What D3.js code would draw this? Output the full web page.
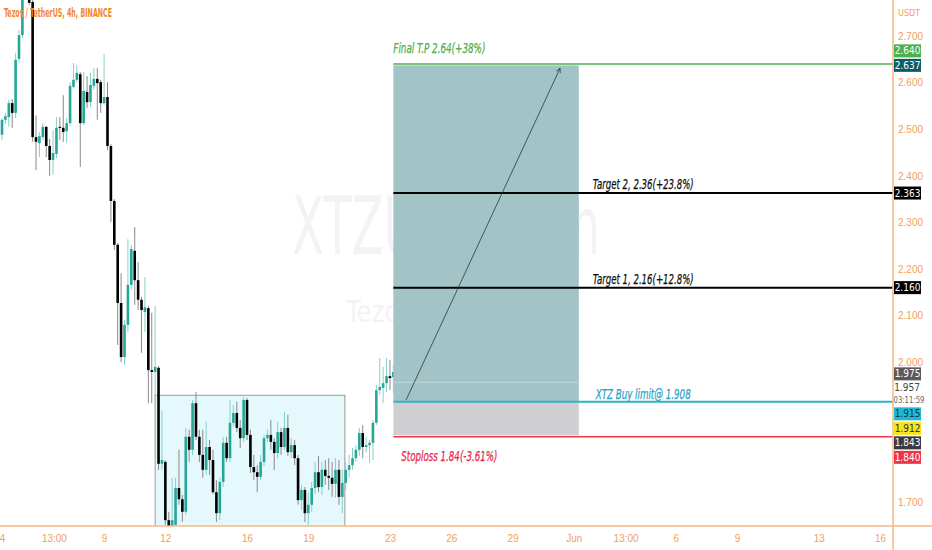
<!DOCTYPE html>
<html>
<head>
<meta charset="utf-8">
<script src="https://cdn.jsdelivr.net/npm/d3@7"></script>
<style>
  html, body { margin: 0; padding: 0; background: #fff; }
  svg { display: block; font-family: "Liberation Sans Narrow", "DejaVu Sans Condensed", "Liberation Sans", sans-serif; }
</style>
</head>
<body>
<svg id="chart" width="932" height="550"></svg>
<script>
// XTZ/USDT 4h candles (first candle 2022-05-04 00:00)
const open = [2.488,2.520,2.526,2.556,2.535,2.651,2.702,2.799,2.831,2.773,
  2.483,2.470,2.483,2.505,2.464,2.434,2.447,2.505,2.503,2.496,
  2.513,2.591,2.606,2.618,2.513,2.580,2.558,2.593,2.608,2.601,
  2.556,2.569,2.464,2.346,2.252,2.127,2.011,2.080,2.166,2.239,
  2.176,2.134,2.108,2.116,1.983,1.979,1.988,1.782,1.786,1.661,
  1.646,1.651,1.730,1.706,1.679,1.840,1.812,1.912,1.840,1.801,
  1.769,1.818,1.790,1.721,1.676,1.743,1.827,1.794,1.870,1.891,
  1.859,1.837,1.919,1.844,1.775,1.764,1.754,1.786,1.837,1.844,
  1.829,1.805,1.850,1.818,1.859,1.807,1.822,1.794,1.704,1.726,
  1.676,1.694,1.730,1.764,1.732,1.769,1.756,1.752,1.739,1.769,
  1.711,1.741,1.769,1.779,1.794,1.812,1.848,1.818,1.822,1.827,
  1.870,1.940,1.945,1.955,1.970,1.968,1.975];
const high = [2.524,2.535,2.563,2.565,2.664,2.713,2.820,2.874,2.863,2.777,
  2.530,2.494,2.513,2.507,2.479,2.498,2.526,2.526,2.573,2.524,
  2.601,2.642,2.638,2.623,2.623,2.614,2.621,2.631,2.631,2.606,
  2.661,2.601,2.468,2.350,2.256,2.191,2.091,2.264,2.252,2.290,
  2.215,2.140,2.183,2.121,2.106,2.121,1.992,1.897,1.790,1.679,
  1.752,1.752,1.812,1.715,1.859,1.855,1.919,1.936,1.855,1.855,
  1.872,1.833,1.812,1.747,1.752,1.840,1.840,1.919,1.908,1.915,
  1.876,1.925,1.923,1.855,1.801,1.779,1.801,1.844,1.855,1.876,
  1.837,1.872,1.859,1.893,1.887,1.837,1.833,1.801,1.737,1.732,
  1.721,1.743,1.786,1.799,1.786,1.790,1.794,1.786,1.794,1.790,
  1.769,1.786,1.801,1.816,1.822,1.859,1.865,1.840,1.833,1.876,
  1.951,2.009,1.990,2.009,2.005,1.994,1.988];
const low = [2.477,2.511,2.505,2.503,2.524,2.644,2.696,2.788,2.767,2.473,
  2.412,2.440,2.477,2.440,2.400,2.402,2.438,2.477,2.473,2.470,
  2.507,2.588,2.601,2.419,2.509,2.545,2.548,2.584,2.520,2.535,
  2.552,2.455,2.301,2.241,2.037,2.000,1.994,2.065,2.155,2.123,
  2.112,2.020,2.065,1.912,1.912,1.897,1.769,1.769,1.651,1.629,
  1.629,1.644,1.694,1.657,1.672,1.786,1.801,1.833,1.786,1.752,
  1.758,1.758,1.717,1.657,1.661,1.732,1.786,1.786,1.862,1.850,
  1.816,1.829,1.833,1.762,1.747,1.721,1.747,1.777,1.829,1.812,
  1.769,1.794,1.801,1.812,1.799,1.794,1.779,1.694,1.683,1.657,
  1.644,1.679,1.717,1.721,1.715,1.737,1.726,1.711,1.709,1.694,
  1.676,1.726,1.752,1.769,1.786,1.799,1.794,1.807,1.784,1.790,
  1.865,1.930,1.912,1.936,1.940,1.934,1.953];
const close = [2.520,2.528,2.556,2.535,2.649,2.702,2.799,2.842,2.771,2.483,
  2.473,2.485,2.505,2.464,2.434,2.449,2.503,2.503,2.494,2.513,
  2.593,2.606,2.621,2.513,2.582,2.558,2.595,2.608,2.599,2.556,
  2.569,2.464,2.346,2.252,2.127,2.011,2.080,2.166,2.243,2.176,
  2.134,2.112,2.118,1.983,1.979,1.990,1.782,1.790,1.661,1.646,
  1.661,1.730,1.706,1.679,1.840,1.812,1.912,1.840,1.801,1.769,
  1.818,1.790,1.721,1.676,1.743,1.827,1.794,1.870,1.891,1.859,
  1.837,1.919,1.844,1.775,1.764,1.754,1.786,1.837,1.844,1.829,
  1.805,1.850,1.818,1.859,1.807,1.822,1.794,1.704,1.726,1.676,
  1.694,1.730,1.764,1.732,1.769,1.756,1.752,1.739,1.769,1.711,
  1.741,1.769,1.779,1.794,1.812,1.848,1.818,1.822,1.827,1.870,
  1.940,1.947,1.955,1.970,1.966,1.979,1.957];

// axes
const timeTicks = ["2022-05-04 00:00","2022-05-06 13:00","2022-05-09 00:00","2022-05-12 00:00","2022-05-16 00:00",
  "2022-05-19 00:00","2022-05-23 00:00","2022-05-26 00:00","2022-05-29 00:00","2022-06-01 00:00",
  "2022-06-03 13:00","2022-06-06 00:00","2022-06-09 00:00","2022-06-13 00:00","2022-06-16 00:00"];
const timeTickLabels = ["4","13:00","9","12","16","19","23","26","29","Jun","13:00","6","9","13","16"];
const priceTicks = [1.7, 2.0, 2.1, 2.2, 2.3, 2.4, 2.5, 2.6, 2.7];

// drawings on the chart
const rangeBox = { times: ["2022-05-11 12:00", "2022-05-20 19:00"], prices: [1.929, 1.60] };
const positionTimes = ["2022-05-23 04:00", "2022-06-01 06:00"];
const entryPrice = 1.915, targetPrice = 2.637, stopPrice = 1.843;
const levelPrices = [2.64, 2.363, 2.16, 1.915, 1.84];
const levelLabels = ["Final T.P 2.64(+38%)", "Target 2, 2.36(+23.8%)", "Target 1, 2.16(+12.8%)", "XTZ Buy limit@ 1.908", "Stoploss 1.84(-3.61%)"];
const arrowTimes = ["2022-05-23 19:00", "2022-05-31 08:00"];
const arrowPrices = [1.919, 2.631];

// price scale tags
const markPrices = [2.640, 2.637, 2.363, 2.160, 1.975, 1.915, 1.912, 1.843, 1.840];
const countdown = "03:11:59";

// styles
const levelColors = ["#4caf50", "#000", "#000", "#2bb5c3", "#f23645"];
const levelWidths = [1.5, 2, 2, 2, 1.5];
const labelColors = ["#4caf50", "#111", "#111", "#2aa3c6", "#e8284c"];
const labelWidths = [92, 101, 101, 95, 96];
const markFills = ["#4caf50", "#0d5c64", "#000", "#000", "#5a5a5e", "#1fb8d2", "#f5e41e", "#3a3b40", "#ee3548"];
const markText = ["#fff", "#fff", "#fff", "#fff", "#fff", "#0c3c44", "#333", "#fff", "#fff"];
const orange = "#f2a05c", axisLine = "#f5b886";

const parse = d3.timeParse("%Y-%m-%d %H:%M");
const firstCandle = parse("2022-05-04 00:00");
const candles = open.map((o, i) => ({
  t: d3.timeHour.offset(firstCandle, 4 * i), o, h: high[i], l: low[i], c: close[i]
}));

const W = 932, H = 550, plotRight = 893, plotBottom = 526;
const svg = d3.select("#chart");

const x = d3.scaleTime()
  .domain([parse("2022-05-04 00:00"), parse("2022-06-16 00:00")])
  .range([2, 880]);
const y = d3.scaleLinear().domain([1.7, 2.7]).range([502, 36]);

const defs = svg.append("defs");
defs.append("clipPath").attr("id", "plot")
  .append("rect").attr("width", plotRight).attr("height", plotBottom);
defs.append("marker")
  .attr("id", "arrowhead").attr("viewBox", "0 0 10 10")
  .attr("refX", 9).attr("refY", 5).attr("markerWidth", 7).attr("markerHeight", 7)
  .attr("orient", "auto")
  .append("path").attr("d", "M1,1 L9,5 L1,9")
  .attr("fill", "none").attr("stroke", "#333").attr("stroke-width", 1.2);

const plot = svg.append("g").attr("clip-path", "url(#plot)");

// watermark behind everything
const wm = plot.append("g").attr("fill", "#f3f3f5");
wm.append("text").attr("x", 446).attr("y", 254).attr("text-anchor", "middle")
  .attr("font-size", 80).attr("textLength", 308).attr("lengthAdjust", "spacingAndGlyphs")
  .text("XTZUSDT, 4h");
wm.append("text").attr("x", 446).attr("y", 322).attr("text-anchor", "middle")
  .attr("font-size", 31).attr("textLength", 200).attr("lengthAdjust", "spacingAndGlyphs")
  .text("Tezos / TetherUS");

// consolidation range box
const rx0 = x(parse(rangeBox.times[0])), rx1 = x(parse(rangeBox.times[1]));
plot.append("rect")
  .attr("x", rx0).attr("y", y(rangeBox.prices[0]))
  .attr("width", rx1 - rx0).attr("height", y(rangeBox.prices[1]) - y(rangeBox.prices[0]))
  .attr("fill", "rgba(0,188,212,0.1)").attr("stroke", "#9a9a9a").attr("stroke-width", 1);

// candles
const bw = 2.6;
const cg = plot.append("g");
cg.selectAll("line").data(candles).join("line")
  .attr("x1", d => x(d.t)).attr("x2", d => x(d.t))
  .attr("y1", d => y(d.h)).attr("y2", d => y(d.l))
  .attr("stroke", d => d.c >= d.o ? "#86d1c7" : "#8a8a8a").attr("stroke-width", 1);
cg.selectAll("rect").data(candles).join("rect")
  .attr("x", d => x(d.t) - bw / 2).attr("width", bw)
  .attr("y", d => y(Math.max(d.o, d.c)))
  .attr("height", d => Math.max(1, Math.abs(y(d.o) - y(d.c))))
  .attr("fill", d => d.c >= d.o ? "#26a69a" : "#000");

// long position tool
const px0 = x(parse(positionTimes[0])), px1 = x(parse(positionTimes[1]));
plot.append("rect").attr("x", px0).attr("width", px1 - px0)
  .attr("y", y(targetPrice)).attr("height", y(entryPrice) - y(targetPrice))
  .attr("fill", "#a3c4c6");
plot.append("rect").attr("x", px0).attr("width", px1 - px0)
  .attr("y", y(entryPrice)).attr("height", y(stopPrice) - y(entryPrice))
  .attr("fill", "#cfcfd1");
plot.append("line").attr("x1", px0).attr("x2", px1)
  .attr("y1", y(close[close.length - 1])).attr("y2", y(close[close.length - 1]))
  .attr("stroke", "rgba(255,255,255,0.35)").attr("stroke-width", 1);

// horizontal levels
plot.selectAll(".level").data(levelPrices).join("line")
  .attr("class", "level")
  .attr("x1", px0).attr("x2", plotRight)
  .attr("y1", d => y(d)).attr("y2", d => y(d))
  .attr("stroke", (d, i) => levelColors[i]).attr("stroke-width", (d, i) => levelWidths[i]);

// arrow
plot.append("line")
  .attr("x1", x(parse(arrowTimes[0]))).attr("y1", y(arrowPrices[0]))
  .attr("x2", x(parse(arrowTimes[1]))).attr("y2", y(arrowPrices[1]))
  .attr("stroke", "#333").attr("stroke-width", 0.8)
  .attr("marker-end", "url(#arrowhead)");

// level labels
const midLine = (px0 + plotRight) / 2;
const labelPos = [
  { x: px0, dy: -11, anchor: "start" },
  { x: midLine, dy: -4, anchor: "middle" },
  { x: midLine, dy: -4, anchor: "middle" },
  { x: midLine, dy: -3, anchor: "middle" },
  { x: px0 + 8, dy: 24, anchor: "start" }
];
svg.selectAll(".lvl-label").data(levelLabels).join("text")
  .attr("class", "lvl-label")
  .attr("x", (d, i) => labelPos[i].x)
  .attr("y", (d, i) => y(levelPrices[i]) + labelPos[i].dy)
  .attr("text-anchor", (d, i) => labelPos[i].anchor)
  .attr("font-size", 13.5).attr("font-style", "italic")
  .attr("textLength", (d, i) => labelWidths[i]).attr("lengthAdjust", "spacingAndGlyphs")
  .attr("fill", (d, i) => labelColors[i])
  .attr("stroke", (d, i) => labelColors[i]).attr("stroke-width", 0.25)
  .text(d => d);

// axes
const xAxis = svg.append("g").attr("transform", `translate(0,${plotBottom})`)
  .call(d3.axisBottom(x).tickValues(timeTicks.map(parse))
    .tickFormat((d, i) => timeTickLabels[i]).tickSize(0).tickPadding(9));
xAxis.select(".domain").remove();
xAxis.selectAll("text").attr("fill", orange).attr("font-size", 10).attr("font-family", null);

const yAxis = svg.append("g").attr("transform", `translate(${plotRight},0)`)
  .call(d3.axisRight(y).tickValues(priceTicks).tickFormat(d3.format(".3f")).tickSize(0).tickPadding(5));
yAxis.select(".domain").remove();
yAxis.selectAll("text").attr("fill", orange).attr("font-size", 10).attr("font-family", null);

svg.append("line").attr("x1", 0).attr("x2", W).attr("y1", plotBottom).attr("y2", plotBottom)
  .attr("stroke", axisLine).attr("stroke-width", 1.5);
svg.append("line").attr("x1", plotRight).attr("x2", plotRight).attr("y1", 0).attr("y2", H)
  .attr("stroke", axisLine).attr("stroke-width", 1.5);
svg.append("text").attr("x", plotRight + 5).attr("y", 16)
  .attr("font-size", 9).attr("fill", orange).text("USDT");

// price tags on the scale, nudged apart where they collide
const tags = markPrices.map((p, i) => ({ p, fill: markFills[i], ink: markText[i], h: 13, sticky: i === 1 }));
tags.splice(5, 0, { p: close[close.length - 1], countdown: true, h: 24 });
tags.forEach(d => d.y = y(d.p));
for (let i = 1; i < tags.length; i++) {
  const a = tags[i - 1], b = tags[i];
  const gap = (a.h + b.h) / 2 + 1.5;
  if (b.y - a.y < gap) {
    if (b.sticky) a.y = b.y - gap; else b.y = a.y + gap;
  }
}
const tg = svg.append("g");
tags.forEach(d => {
  if (d.countdown) {
    tg.append("text").attr("x", plotRight + 14).attr("y", d.y - 6).attr("dy", "0.35em")
      .attr("text-anchor", "middle").attr("font-size", 10).attr("fill", "#444")
      .text(d3.format(".3f")(d.p));
    tg.append("text").attr("x", plotRight + 16).attr("y", d.y + 6).attr("dy", "0.35em")
      .attr("text-anchor", "middle").attr("font-size", 9).attr("fill", "#666")
      .attr("textLength", 31).attr("lengthAdjust", "spacingAndGlyphs")
      .text(countdown);
    return;
  }
  tg.append("rect").attr("x", plotRight + 1).attr("y", d.y - d.h / 2)
    .attr("width", 27).attr("height", d.h).attr("fill", d.fill);
  tg.append("text").attr("x", plotRight + 14.5).attr("y", d.y).attr("dy", "0.35em")
    .attr("text-anchor", "middle").attr("font-size", 10).attr("fill", d.ink)
    .text(d3.format(".3f")(d.p));
});

// header
svg.append("text").attr("x", 4).attr("y", 17)
  .attr("font-size", 12).attr("font-weight", "bold").attr("fill", "#f5862a")
  .attr("textLength", 108).attr("lengthAdjust", "spacingAndGlyphs")
  .text("Tezos / TetherUS, 4h, BINANCE");
</script>
</body>
</html>
